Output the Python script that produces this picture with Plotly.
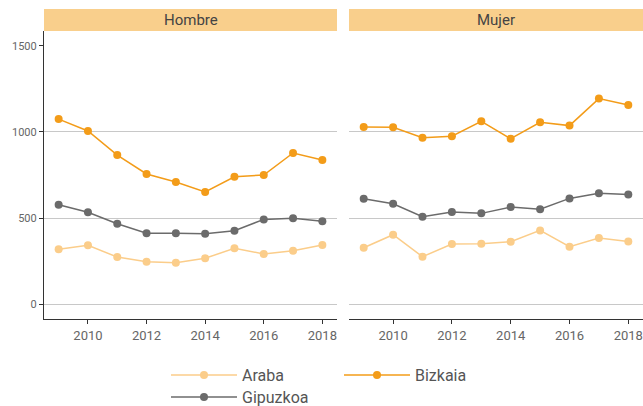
import plotly.graph_objects as go
from plotly.subplots import make_subplots

years = list(range(2009, 2019))
panels = ["Hombre", "Mujer"]

araba_hombre = [318, 341, 273, 246, 240, 266, 324, 291, 310, 343]
bizkaia_hombre = [1075, 1006, 866, 756, 709, 651, 740, 750, 878, 837]
gipuzkoa_hombre = [577, 533, 467, 411, 411, 409, 426, 492, 498, 481]

araba_mujer = [327, 403, 275, 349, 351, 362, 428, 333, 384, 364]
bizkaia_mujer = [1029, 1027, 967, 975, 1062, 961, 1056, 1037, 1194, 1157]
gipuzkoa_mujer = [612, 583, 508, 535, 527, 564, 551, 614, 644, 636]

series = [
    ("Araba", "#FBCD8A", araba_hombre, araba_mujer, "legend"),
    ("Bizkaia", "#F39C19", bizkaia_hombre, bizkaia_mujer, "legend"),
    ("Gipuzkoa", "#6B6B6B", gipuzkoa_hombre, gipuzkoa_mujer, "legend2"),
]

# figure is a bit taller than the window so the bottom legend row gets clipped
W, H = 643, 430
font = "Roboto, Lato, sans-serif"


def py(px):
    return 1 - px / H


fig = make_subplots(rows=1, cols=2, shared_yaxes=True)

for name, color, hombre, mujer, leg in series:
    for col, vals in ((1, hombre), (2, mujer)):
        fig.add_trace(go.Scatter(
            x=years, y=vals, mode="lines+markers", name=name,
            line=dict(color=color, width=1.5),
            marker=dict(color=color, size=8),
            showlegend=(col == 1), legend=leg,
        ), row=1, col=col)

x_dom = [(44 / W, 337 / W), (349 / W, 1.0)]
y_dom = (py(319), py(31))

axis_common = dict(
    range=[2008.5, 2018.5], tickvals=[2010, 2012, 2014, 2016, 2018],
    showgrid=False, zeroline=False, showline=True, linecolor="#333",
    linewidth=1.2, ticks="outside", ticklen=4, tickcolor="#333",
    tickfont=dict(family=font, size=13, color="#666"),
)
fig.update_layout(xaxis=dict(domain=x_dom[0], **axis_common),
                  xaxis2=dict(domain=x_dom[1], **axis_common))

grid = dict(tickvals=[0, 500, 1000], showgrid=True,
            gridcolor="#C8C8C8", gridwidth=1, ticks="")
fig.update_layout(
    yaxis=dict(domain=y_dom, range=[-87, 1587], tickvals=[0, 500, 1000, 1500],
               showgrid=False, zeroline=False, showline=True, linecolor="#333",
               linewidth=1.2, ticks="outside", ticklen=4, tickcolor="#333",
               tickfont=dict(family=font, size=11, color="#666"), minor=grid),
    yaxis2=dict(domain=y_dom, range=[-87, 1587], matches="y",
                showticklabels=False, showline=False, ticks="",
                showgrid=False, zeroline=False, minor=grid),
)

# facet strips
for (x0, x1), label in zip(x_dom, panels):
    fig.add_shape(type="rect", xref="paper", yref="paper",
                  x0=x0, x1=x1, y0=py(31), y1=py(9),
                  fillcolor="#F9CF8C", line=dict(width=0), layer="below")
    fig.add_annotation(x=(x0 + x1) / 2, y=py(20), xref="paper", yref="paper",
                       xanchor="center", yanchor="middle",
                       text=label, showarrow=False,
                       font=dict(family=font, size=15, color="#444"))

legend_style = dict(orientation="h", xanchor="left", yanchor="middle",
                    entrywidth=92, entrywidthmode="pixels", itemwidth=66,
                    font=dict(family=font, size=16, color="#555"),
                    bgcolor="rgba(0,0,0,0)")
fig.update_layout(
    legend=dict(x=166 / W, y=py(375), **legend_style),
    legend2=dict(x=166 / W, y=py(397), **legend_style),
)

fig.update_layout(
    width=W, height=H, margin=dict(l=0, r=0, t=0, b=0),
    plot_bgcolor="white", paper_bgcolor="white",
    font=dict(family=font),
)

fig.write_html("out.html", config={"displayModeBar": False},
               post_script="document.body.style.margin='0';"
                           "document.body.style.overflow='hidden';")
